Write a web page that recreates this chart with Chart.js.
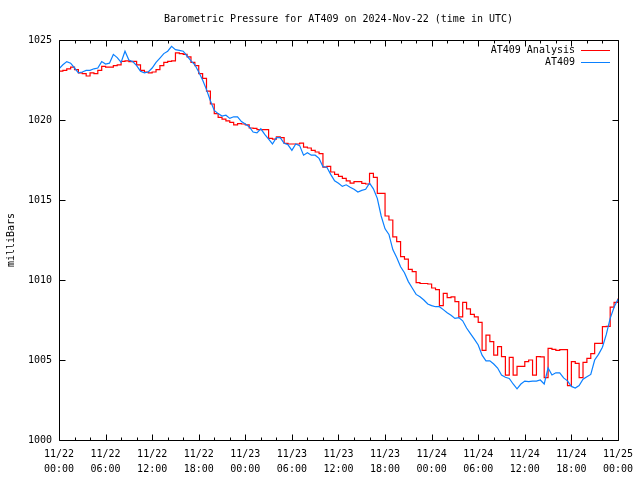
<!DOCTYPE html>
<html>
<head>
<meta charset="utf-8">
<script src="https://cdn.jsdelivr.net/npm/chart.js@4"></script>
<style>
    html, body { margin: 0; padding: 0; background: #fff; }
    #wrap { width: 640px; height: 480px; }
</style>
</head>
<body>
<div id="wrap"><canvas id="pressure-chart" width="640" height="480"></canvas></div>
<script>
// hours since 2024-11-22 00:00 UTC, one sample every half hour
const hours = Array.from({ length: 145 }, (_, i) => i / 2);

const xTickLabels = [
    ['11/22', '00:00'], ['11/22', '06:00'], ['11/22', '12:00'], ['11/22', '18:00'],
    ['11/23', '00:00'], ['11/23', '06:00'], ['11/23', '12:00'], ['11/23', '18:00'],
    ['11/24', '00:00'], ['11/24', '06:00'], ['11/24', '12:00'], ['11/24', '18:00'],
    ['11/25', '00:00']
];

// AT409 Analysis (red)
const analysisValues = [
    1023.05, 1023.1, 1023.2, 1023.3, 1023.15, 1022.95, 1022.9, 1022.75, 1022.95, 1022.9, 1023.1, 1023.35,
    1023.3, 1023.3, 1023.4, 1023.45, 1023.67, 1023.7, 1023.65, 1023.67, 1023.45, 1023.1, 1023.0, 1022.95,
    1023.0, 1023.15, 1023.4, 1023.6, 1023.67, 1023.7, 1024.19, 1024.15, 1024.1, 1023.95, 1023.6, 1023.4,
    1022.9, 1022.6, 1021.8, 1021.0, 1020.4, 1020.17, 1020.05, 1019.95, 1019.85, 1019.7, 1019.77, 1019.75,
    1019.7, 1019.5, 1019.48, 1019.4, 1019.4, 1019.4, 1018.85, 1018.8, 1018.95, 1018.9, 1018.54, 1018.5,
    1018.5, 1018.5, 1018.55, 1018.3, 1018.25, 1018.1, 1018.0, 1017.9, 1017.05, 1017.1, 1016.75, 1016.6,
    1016.48, 1016.35, 1016.2, 1016.05, 1016.15, 1016.15, 1016.04, 1016.0, 1016.67, 1016.42, 1015.42, 1015.42,
    1014.0, 1013.75, 1012.7, 1012.4, 1011.46, 1011.3, 1010.67, 1010.52, 1009.83, 1009.78, 1009.78, 1009.75,
    1009.5, 1009.4, 1008.4, 1009.17, 1008.9, 1008.94, 1008.65, 1007.7, 1008.6, 1008.2, 1007.85, 1007.7,
    1007.35, 1005.6, 1006.56, 1006.15, 1005.3, 1005.83, 1005.21, 1004.06, 1005.17, 1004.06, 1004.6, 1004.6,
    1004.9, 1005.0, 1004.06, 1005.21, 1005.2, 1003.9, 1005.73, 1005.67, 1005.6, 1005.65, 1005.65, 1003.4,
    1004.9, 1004.79, 1003.9, 1004.85, 1005.1, 1005.4, 1006.04, 1006.04, 1007.08, 1007.1, 1008.3, 1008.6,
    1008.85
];

// AT409 observed (blue)
const observedValues = [
    1023.2, 1023.45, 1023.65, 1023.55, 1023.25, 1022.95, 1023.0, 1023.1, 1023.1, 1023.2, 1023.25, 1023.65,
    1023.5, 1023.55, 1024.1, 1023.9, 1023.6, 1024.3, 1023.75, 1023.65, 1023.4, 1023.05, 1022.95, 1023.0,
    1023.25, 1023.6, 1023.87, 1024.15, 1024.3, 1024.6, 1024.4, 1024.35, 1024.3, 1024.0, 1023.7, 1023.45,
    1023.0, 1022.5, 1021.9, 1021.2, 1020.6, 1020.4, 1020.25, 1020.3, 1020.1, 1020.2, 1020.2, 1019.9,
    1019.75, 1019.58, 1019.25, 1019.2, 1019.45, 1019.1, 1018.8, 1018.5, 1018.9, 1018.9, 1018.54, 1018.45,
    1018.1, 1018.5, 1018.4, 1017.8, 1017.95, 1017.8, 1017.8, 1017.6, 1017.08, 1017.05, 1016.6, 1016.2,
    1016.05, 1015.85, 1015.95, 1015.8, 1015.67, 1015.5, 1015.6, 1015.67, 1016.05, 1015.7, 1015.1, 1014.0,
    1013.2, 1012.85, 1011.9, 1011.4, 1010.83, 1010.45, 1009.9, 1009.5, 1009.1, 1008.95, 1008.75, 1008.5,
    1008.4, 1008.33, 1008.33, 1008.15, 1007.95, 1007.8, 1007.6, 1007.65, 1007.45, 1007.0, 1006.65, 1006.3,
    1005.94, 1005.3, 1004.95, 1004.95, 1004.75, 1004.5, 1004.06, 1003.92, 1003.85, 1003.5, 1003.2, 1003.5,
    1003.68, 1003.65, 1003.68, 1003.68, 1003.75, 1003.5, 1004.5, 1004.06, 1004.2, 1004.2, 1003.88, 1003.7,
    1003.35, 1003.25, 1003.4, 1003.8, 1003.96, 1004.1, 1005.0, 1005.35, 1005.8, 1006.6, 1007.6, 1008.3,
    1008.8
];

const seriesNames = ['AT409 Analysis', 'AT409'];
const seriesColors = ['#ff0000', '#0a80ff'];

const monoFont = "'DejaVu Sans Mono', 'Liberation Mono', monospace";

// gnuplot style frame, inward ticks and the legend in the top right corner
const framePlugin = {
    id: 'frame',
    afterDraw(chart) {
        const { ctx, chartArea: area, scales } = chart;
        const left = Math.round(area.left) + 0.5;
        const right = Math.round(area.right) + 0.5;
        const top = Math.round(area.top) + 0.5;
        const bottom = Math.round(area.bottom) + 0.5;
        ctx.save();
        ctx.strokeStyle = '#000';
        ctx.lineWidth = 1;
        ctx.beginPath();
        ctx.rect(left, top, right - left, bottom - top);

        // y ticks, both sides
        for (let v = 1000; v <= 1025; v += 5) {
            const y = Math.round(scales.y.getPixelForValue(v)) + 0.5;
            ctx.moveTo(left, y); ctx.lineTo(left + 6, y);
            ctx.moveTo(right, y); ctx.lineTo(right - 6, y);
        }
        // x ticks every 2 hours, longer on the labelled 6 hour ones
        for (let h = 0; h <= 72; h += 2) {
            const x = Math.round(scales.x.getPixelForValue(h)) + 0.5;
            const len = h % 6 === 0 ? 6 : 3;
            ctx.moveTo(x, bottom); ctx.lineTo(x, bottom - len);
            ctx.moveTo(x, top); ctx.lineTo(x, top + len);
        }
        ctx.stroke();

        // legend
        ctx.font = '10px ' + monoFont;
        ctx.textAlign = 'right';
        ctx.textBaseline = 'middle';
        seriesNames.forEach((name, i) => {
            const y = 50 + i * 12;
            ctx.fillStyle = '#000';
            ctx.fillText(name, 575, y);
            ctx.strokeStyle = seriesColors[i];
            ctx.beginPath();
            ctx.moveTo(581, y + 0.5);
            ctx.lineTo(610, y + 0.5);
            ctx.stroke();
        });
        ctx.restore();
    }
};

const ctx = document.getElementById('pressure-chart').getContext('2d');

new Chart(ctx, {
    type: 'line',
    data: {
        labels: hours,
        datasets: [{
            label: seriesNames[0],
            data: hours.map((h, i) => ({ x: h, y: analysisValues[i] })),
            borderColor: seriesColors[0],
            borderWidth: 1.2,
            pointRadius: 0,
            stepped: true,
            order: 1
        }, {
            label: seriesNames[1],
            data: hours.map((h, i) => ({ x: h, y: observedValues[i] })),
            borderColor: seriesColors[1],
            borderWidth: 1.2,
            pointRadius: 0,
            tension: 0,
            order: 0
        }]
    },
    options: {
        responsive: false,
        animation: false,
        layout: { padding: { left: 0, right: 20, top: 0, bottom: 0 } },
        plugins: {
            legend: { display: false },
            tooltip: { enabled: false },
            title: {
                display: true,
                fullSize: false,
                text: 'Barometric Pressure for AT409 on 2024-Nov-22 (time in UTC)',
                color: '#000',
                font: { family: monoFont, size: 10, weight: 'normal', lineHeight: 1.2 },
                padding: { top: 13, bottom: 15 }
            }
        },
        scales: {
            x: {
                type: 'linear',
                min: 0,
                max: 72,
                grid: { display: false, drawTicks: false },
                border: { display: false },
                afterFit: (scale) => { scale.height = 40; },
                ticks: {
                    stepSize: 6,
                    autoSkip: false,
                    maxRotation: 0,
                    padding: 7,
                    color: '#000',
                    font: { family: monoFont, size: 10, lineHeight: 1.5 },
                    callback: (value) => xTickLabels[value / 6]
                }
            },
            y: {
                min: 1000,
                max: 1025,
                grid: { display: false, drawTicks: false },
                border: { display: false },
                afterFit: (scale) => { scale.width = 59; },
                title: {
                    display: true,
                    text: 'milliBars',
                    color: '#000',
                    font: { family: monoFont, size: 10 },
                    padding: { top: 5, bottom: 0 }
                },
                ticks: {
                    stepSize: 5,
                    padding: 7,
                    color: '#000',
                    font: { family: monoFont, size: 10 },
                    callback: (value) => String(value)
                }
            }
        }
    },
    plugins: [framePlugin]
});
</script>
</body>
</html>
